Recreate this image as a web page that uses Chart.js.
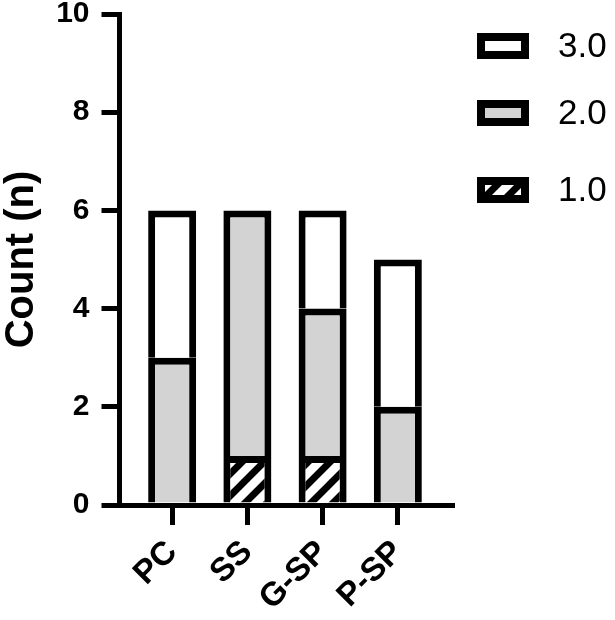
<!DOCTYPE html>
<html>
<head>
<meta charset="utf-8">
<script src="https://cdn.jsdelivr.net/npm/chart.js@4.4.1/dist/chart.umd.min.js"></script>
<style>
  html, body { margin: 0; padding: 0; background: #ffffff; }
  #wrap { width: 615px; height: 620px; position: relative; }
</style>
</head>
<body>
<div id="wrap"><canvas id="barChart"></canvas></div>
<script>
// Data
const categories = ["PC", "SS", "G-SP", "P-SP"];
const seriesNames = ["1.0", "2.0", "3.0"];
const values10 = [0, 1, 1, 0];
const values20 = [3, 5, 3, 2];
const values30 = [3, 0, 2, 3];
const yTicks = [0, 2, 4, 6, 8, 10];

const seriesValues = [values10, values20, values30];
const FONT = "'Liberation Sans', Arial, sans-serif";
const GRAY = "#d3d3d3";

function makeHatch() {
  const size = 22;
  const c = document.createElement("canvas");
  c.width = size;
  c.height = size;
  const g = c.getContext("2d");
  g.fillStyle = "#ffffff";
  g.fillRect(0, 0, size, size);
  g.strokeStyle = "#000000";
  g.lineWidth = 7;
  g.beginPath();
  g.moveTo(-size, size * 2); g.lineTo(size * 2, -size);
  g.moveTo(-size, size); g.lineTo(size, -size);
  g.moveTo(0, size * 2); g.lineTo(size * 2, 0);
  g.stroke();
  return g.createPattern(c, "repeat");
}

// every segment draws its own top edge, none draws a bottom edge
function segmentBorder(ctx) {
  return { left: 7, right: 7, top: 7, bottom: 0 };
}

const hatch = makeHatch();
const fills = [hatch, GRAY, "#ffffff"];

const sideLegend = {
  id: "sideLegend",
  afterDraw(chart) {
    const g = chart.ctx;
    const rows = [46, 113, 190];
    const order = [2, 1, 0];
    g.save();
    order.forEach((ds, r) => {
      const cy = rows[r];
      const x = 477, w = 52, h = 26, y = cy - h / 2;
      g.fillStyle = "#000000";
      g.fillRect(x, y, w, h);
      g.fillStyle = fills[ds];
      g.fillRect(x + 8, y + 8, w - 16, h - 16);
      g.fillStyle = "#000000";
      g.font = "35px " + FONT;
      g.textAlign = "left";
      g.textBaseline = "middle";
      g.fillText(seriesNames[ds], 558, cy + 1);
    });
    g.restore();
  },
};

const datasets = seriesNames.map((name, k) => ({
  label: name,
  data: seriesValues[k].map((v, i) => ({ x: i + 1, y: v })),
  backgroundColor: fills[k],
  borderColor: "#000000",
  borderWidth: segmentBorder,
  borderSkipped: false,
  barThickness: 48,
  inflateAmount: 0,
}));

new Chart(document.getElementById("barChart").getContext("2d"), {
  type: "bar",
  data: { datasets },
  plugins: [sideLegend],
  options: {
    responsive: true,
    maintainAspectRatio: false,
    animation: false,
    layout: { padding: { left: 0, top: 14, right: 163, bottom: 0 } },
    plugins: {
      legend: { display: false },
      tooltip: { enabled: false },
    },
    scales: {
      x: {
        type: "linear",
        stacked: true,
        offset: false,
        min: 0.3,
        max: 4.72,
        afterBuildTicks: (scale) => {
          scale.ticks = categories.map((c, i) => ({ value: i + 1 }));
        },
        afterFit: (scale) => {
          scale.height = 115;
          scale.paddingLeft = 0;
          scale.paddingRight = 0;
        },
        grid: {
          offset: false,
          drawOnChartArea: false,
          color: "#000000",
          lineWidth: 5,
          tickLength: 20,
        },
        border: { display: true, color: "#000000", width: 5 },
        ticks: {
          color: "#000000",
          font: { family: FONT, size: 33, weight: "bold" },
          minRotation: 45,
          maxRotation: 45,
          padding: 8,
          callback: (v) => categories[Math.round(v) - 1],
        },
      },
      y: {
        stacked: true,
        min: 0,
        max: 10,
        afterBuildTicks: (scale) => {
          scale.ticks = yTicks.map((v) => ({ value: v }));
        },
        afterFit: (scale) => {
          scale.width = 119.5;
          scale.paddingTop = 0;
          scale.paddingBottom = 0;
        },
        grid: {
          drawOnChartArea: false,
          color: "#000000",
          lineWidth: 5,
          tickLength: 18,
        },
        border: { display: true, color: "#000000", width: 5 },
        ticks: {
          color: "#000000",
          font: { family: FONT, size: 30, weight: "bold" },
          padding: 12,
        },
        title: {
          display: true,
          text: "Count (n)",
          color: "#000000",
          font: { family: FONT, size: 40, weight: "bold", lineHeight: 1 },
          padding: { top: 2, bottom: 0 },
        },
      },
    },
  },
});
</script>
</body>
</html>
